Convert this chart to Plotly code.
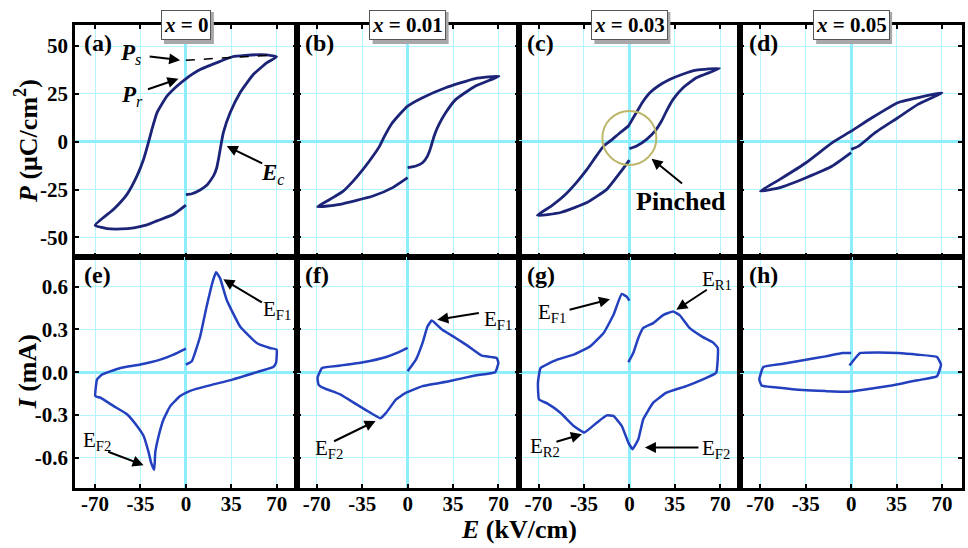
import plotly.graph_objects as go
from plotly.subplots import make_subplots

# ---------------- data ----------------
E_ticks = [-70, -35, 0, 35, 70]
E_ticktext = ["-70", "-35", "0", "35", "70"]
P_ticks = [-50, -25, 0, 25, 50]
P_ticktext = ["-50", "-25", "0", "25", "50"]
I_ticks = [-0.6, -0.3, 0.0, 0.3, 0.6]
I_ticktext = ["-0.6", "-0.3", "0.0", "0.3", "0.6"]

compositions = ["0", "0.01", "0.03", "0.05"]
panel_letters = ["a", "b", "c", "d", "e", "f", "g", "h"]

# P-E loops
E_a = [0, 4.6, 11, 16.1, 21.3, 23.8, 25.6, 26.9, 28.9, 34.1, 41.8, 52, 62.3, 70,
       62, 57, 46, 36, 26.4, 11, 0, -7, -14.6, -22.3, -26.2, -28.7, -32.6, -37.7, -45.4, -55.7, -70,
       -60.8, -50, -40, -30, -22.3, -9.5, 0]
P_a = [-27.7, -27.2, -25.2, -22.8, -17.9, -13.6, -7.5, -2.3, 4.7, 15.1, 25.6, 35.1, 41.2, 44.4,
       45.4, 45.5, 45.1, 44.4, 42, 37.7, 32.9, 29, 23.8, 15.1, 6.4, 0, -9.2, -17.9, -27.5, -35.3, -43.7,
       -45.4, -45.6, -45.0, -43.5, -41.4, -37.9, -33.1]

E_b = [0, 6.4, 11.5, 15.3, 17.8, 20.4, 24.2, 29.3, 37, 52, 70.5,
       52, 29.3, 11.5, 0, -6.3, -12.7, -17.8, -21.6, -26.7, -34.4, -42, -49.6, -59.8, -69.5,
       -52, -26.7, -11.5, 0]
P_b = [-13.6, -12.7, -11, -7.5, -3.1, 2.9, 9, 15.1, 22, 29, 34.2,
       33, 28.2, 23, 18.6, 14.2, 9, 2.9, -2.3, -7.5, -14.5, -20.6, -25.8, -30.1, -34,
       -32.7, -28.4, -24, -18.8]

E_c = [0, 5.6, 13.3, 19.7, 24.8, 28.6, 33.7, 41.4, 51.6, 69.5,
       51.6, 40, 31, 22, 15.8, 10, 6.9, 3, -0.8, -7.2, -14.9, -19.9, -25, -32.7, -41, -50.6, -60, -71,
       -53, -32.7, -17.4, -7.2, 0]
P_c = [-3.7, -2.3, 1.2, 5.5, 10.8, 16, 22.1, 28.2, 33.4, 38.3,
       37.4, 35, 32.5, 29, 25.6, 20.5, 16.9, 12.5, 8.2, 4.7, 0.3, -2.3, -7, -14.5, -21.5, -28.4, -33.5, -38.5,
       -37, -31.8, -24.9, -16.2, -9.6]

E_d = [0, 5.8, 18.5, 36, 51.5, 70,
       56.5, 36, 16, 0, -14.5, -34.8, -55, -70,
       -55, -34.8, -14.5, 0]
P_d = [-4, -2.3, 4.7, 12.5, 19.5, 25.6,
       23.8, 20.4, 12.5, 5.5, -0.5, -11, -19.7, -25.8,
       -24, -18.8, -12.7, -5.7]

# I-E curves
E_e = [0, 4.6, 11, 16, 21, 23.3, 26.4, 31.5, 41.8, 54.6, 64.8, 70, 69.5, 67.4,
       57, 36.6, 16, 3.3, -4.4, -12, -17.2, -21, -23.6, -24.4, -26.9, -28.7, -32.6, -37.7, -45.4, -55.7, -66, -69.8, -68.5, -64.6,
       -50.5, -35.1, -19.8, -9.5, 0]
I_e = [0.054, 0.077, 0.25, 0.46, 0.645, 0.70, 0.657, 0.506, 0.32, 0.205, 0.17, 0.158, 0.065, 0.037,
       0.007, -0.05, -0.097, -0.13, -0.167, -0.237, -0.329, -0.446, -0.561, -0.682, -0.63, -0.561, -0.446, -0.376, -0.294, -0.237, -0.178, -0.167, -0.05, -0.016,
       0.03, 0.054, 0.088, 0.123, 0.165]

E_f = [0, 6.4, 11.5, 15.3, 18.6, 26.7, 37, 47, 57.3, 68.7, 70, 67.5,
       52, 31.8, 11.5, -1.2, -8.9, -16.5, -21, -26.7, -39.4, -52, -65, -68.7, -69.5, -66,
       -52, -34.4, -16.5, -6.3, 0]
I_f = [0.007, 0.088, 0.205, 0.32, 0.362, 0.297, 0.24, 0.181, 0.116, 0.1, 0.065, 0.0,
       -0.023, -0.063, -0.097, -0.143, -0.19, -0.283, -0.322, -0.294, -0.225, -0.155, -0.109, -0.086, -0.039, 0.03,
       0.047, 0.07, 0.107, 0.142, 0.17]

E_g = [-0.8, 3, 6.9, 10.7, 18.4, 26, 33.7, 38.8, 46.4, 56.7, 64.4, 68.2, 66.9,
       56.7, 43.9, 28.6, 18.4, 10.7, 6.9, 2.5, -0.8, -5.9, -12.3, -17.4, -25, -34.8, -42.9, -53.2, -63.4, -69.7, -70.5, -68.5,
       -55.7, -42.9, -30.2, -19.9, -12.3, -5.9, -2.1, 0]
I_g = [0.07, 0.135, 0.24, 0.31, 0.344, 0.40, 0.425, 0.40, 0.31, 0.246, 0.209, 0.17, -0.004,
       -0.05, -0.097, -0.143, -0.213, -0.329, -0.469, -0.538, -0.492, -0.376, -0.306, -0.302, -0.352, -0.422, -0.376, -0.283, -0.218, -0.19, -0.074, 0.03,
       0.088, 0.123, 0.181, 0.274, 0.40, 0.548, 0.529, 0.501]

E_h = [-1.3, 3.3, 7.1, 21, 36.2, 51.4, 66.2, 69.3, 66.2,
       51.4, 31.2, 10.9, -1.8, -19.6, -37.3, -55.1, -69, -70.8, -67.7,
       -52.5, -34.8, -19.6, -6.8, 0]
I_h = [0.047, 0.1, 0.135, 0.139, 0.135, 0.123, 0.107, 0.054, -0.028,
       -0.056, -0.093, -0.12, -0.136, -0.132, -0.125, -0.109, -0.093, -0.051, 0.037,
       0.06, 0.088, 0.111, 0.135, 0.135]

# ---------------- figure ----------------
FONT = "Liberation Serif, Times New Roman, Times, serif"
TOP_COLOR = "#1b2477"
BOT_COLOR = "#2340be"
GRID = "#b4f5fd"
ZERO = "#8eeefd"

fig = make_subplots(rows=2, cols=4, horizontal_spacing=0, vertical_spacing=0)

top_data = [(E_a, P_a), (E_b, P_b), (E_c, P_c), (E_d, P_d)]
bot_data = [(E_e, I_e), (E_f, I_f), (E_g, I_g), (E_h, I_h)]
for c, (ex, py) in enumerate(top_data, start=1):
    fig.add_trace(go.Scatter(x=ex, y=py, mode="lines", showlegend=False, hoverinfo="skip",
                             line=dict(color=TOP_COLOR, width=2.8, shape="spline", smoothing=0.45)),
                  row=1, col=c)
for c, (ex, iy) in enumerate(bot_data, start=1):
    fig.add_trace(go.Scatter(x=ex, y=iy, mode="lines", showlegend=False, hoverinfo="skip",
                             line=dict(color=BOT_COLOR, width=2.5, shape="spline", smoothing=0.35)),
                  row=2, col=c)

tickfont = dict(family=FONT, size=21, color="black", weight="bold")
for r in (1, 2):
    for c in range(1, 5):
        fig.update_xaxes(row=r, col=c, range=[-85.5, 85.5], tickvals=E_ticks, ticktext=E_ticktext,
                         showticklabels=(r == 2), tickfont=tickfont, ticklabelstandoff=-5,
                         showgrid=True, gridcolor=GRID, gridwidth=1,
                         zeroline=True, zerolinecolor=ZERO, zerolinewidth=2.5,
                         showline=True, linecolor="black", linewidth=2.5, mirror="ticks",
                         ticks="inside", ticklen=4, tickwidth=2, tickcolor="black")
        if r == 1:
            fig.update_yaxes(row=r, col=c, range=[-60, 61], tickvals=P_ticks, ticktext=P_ticktext)
        else:
            fig.update_yaxes(row=r, col=c, range=[-0.81, 0.81], tickvals=I_ticks, ticktext=I_ticktext)
        fig.update_yaxes(row=r, col=c, showticklabels=(c == 1), tickfont=tickfont,
                         showgrid=True, gridcolor=GRID, gridwidth=1,
                         zeroline=True, zerolinecolor=ZERO, zerolinewidth=2.5,
                         showline=True, linecolor="black", linewidth=2.5, mirror="ticks",
                         ticks="inside", ticklen=4, tickwidth=2, tickcolor="black")

annotations = []
shapes = []
box_widths = [50, 76, 76, 76]
# column titles (with a soft shadow box)
for i, comp in enumerate(compositions):
    xr = "x" if i == 0 else f"x{i+1}"
    w = box_widths[i]
    shapes.append(dict(type="rect", xref=xr, yref="paper", xsizemode="pixel", ysizemode="pixel",
                       xanchor=0, yanchor=1.0, x0=-w / 2 + 3, x1=w / 2 + 3, y0=-19, y1=13,
                       fillcolor="#a8a8a8", line=dict(width=0), layer="above"))
    annotations.append(dict(xref=xr + " domain", yref="paper", x=0.5, y=1.0, xanchor="center",
                            yanchor="middle", text=f"<b><i>x</i> = {comp}</b>", showarrow=False,
                            font=dict(family=FONT, size=21, color="black"),
                            bgcolor="white", bordercolor="#555555", borderwidth=1, borderpad=2))
# panel letters
for k, letter in enumerate(panel_letters):
    n = k + 1
    xr = "x domain" if n == 1 else f"x{n} domain"
    yr = "y domain" if n == 1 else f"y{n} domain"
    annotations.append(dict(xref=xr, yref=yr, x=0.03, y=0.985, xanchor="left", yanchor="top",
                            text=f"<b>({letter})</b>", showarrow=False,
                            font=dict(family=FONT, size=24, color="black")))

# axis titles
annotations.append(dict(xref="paper", yref="paper", x=-0.0539, y=0.75, xanchor="center",
                        yanchor="middle", textangle=-90,
                        text="<b><i>P</i> (μC/cm<sup>2</sup>)</b>", showarrow=False,
                        font=dict(family=FONT, size=26, color="black")))
annotations.append(dict(xref="paper", yref="paper", x=-0.0539, y=0.25, xanchor="center",
                        yanchor="middle", textangle=-90,
                        text="<b><i>I</i> (mA)</b>", showarrow=False,
                        font=dict(family=FONT, size=26, color="black")))
annotations.append(dict(xref="paper", yref="paper", x=0.5, y=-0.089, xanchor="center",
                        yanchor="middle",
                        text="<b><i>E</i> (kV/cm)</b>", showarrow=False,
                        font=dict(family=FONT, size=26, color="black")))


def arrow(xr, yr, x, y, ax, ay):
    annotations.append(dict(xref=xr, yref=yr, x=x, y=y, ax=ax, ay=ay, text="", showarrow=True,
                            arrowhead=2, arrowsize=1.1, arrowwidth=2, arrowcolor="black", standoff=0))


def label(xr, yr, x, y, text, size=21):
    annotations.append(dict(xref=xr, yref=yr, x=x, y=y, xanchor="center", yanchor="middle",
                            text=text, showarrow=False,
                            font=dict(family=FONT, size=size, color="black")))


# panel (a)
arrow("x", "y", -4.4, 42.6, -32, -4)
label("x", "y", -43, 45.6, "<b><i>P</i></b><i><sub>s</sub></i>", 23)
arrow("x", "y", -5.7, 32.9, -32, 11)
label("x", "y", -41.5, 23.8, "<b><i>P</i></b><i><sub>r</sub></i>", 23)
arrow("x", "y", 31.5, -2.3, 37, 18)
label("x", "y", 67.2, -17, "<b><i>E</i></b><i><sub>c</sub></i>", 23)
# panel (c)
arrow("x3", "y3", 17.1, -8.9, 32, 26)
label("x3", "y3", 40, -31, "<b>Pinched</b>", 26)
# panel (e)
arrow("x5", "y5", 28.9, 0.65, 40, 24)
label("x5", "y5", 70, 0.437, "E<sub>F1</sub>")
arrow("x5", "y5", -32.6, -0.65, -37, -14)
label("x5", "y5", -68.5, -0.48, "E<sub>F2</sub>")
# panel (f)
arrow("x6", "y6", 22.9, 0.367, 43, -7)
label("x6", "y6", 70, 0.367, "E<sub>F1</sub>")
arrow("x6", "y6", -24.7, -0.341, -43, 21)
label("x6", "y6", -61, -0.538, "E<sub>F2</sub>")
# panel (g)
arrow("x7", "y7", -14.9, 0.511, -42, 11)
label("x7", "y7", -59.5, 0.414, "E<sub>F1</sub>")
arrow("x7", "y7", 36.2, 0.437, 32, -21)
label("x7", "y7", 67.4, 0.646, "E<sub>R1</sub>")
arrow("x7", "y7", -36.6, -0.434, -27, 8)
label("x7", "y7", -64.7, -0.526, "E<sub>R2</sub>")
arrow("x7", "y7", 12, -0.526, 55, 0)
label("x7", "y7", 66.9, -0.538, "E<sub>F2</sub>")

shapes += [
    dict(type="line", xref="x", yref="y", x0=0, y0=42.6, x1=68, y1=45.3,
         line=dict(color="black", width=1.5, dash="dash")),
    dict(type="circle", xref="x3", yref="y3", xsizemode="pixel", ysizemode="pixel",
         xanchor=0, yanchor=2, x0=-27, x1=27, y0=-27, y1=27,
         line=dict(color="#bdb76b", width=2)),
]

fig.update_layout(width=968, height=548, margin=dict(l=75, r=3, t=25, b=60),
                  plot_bgcolor="white", paper_bgcolor="white",
                  annotations=annotations, shapes=shapes,
                  font=dict(family=FONT, color="black"))

fig.write_html("out.html")
